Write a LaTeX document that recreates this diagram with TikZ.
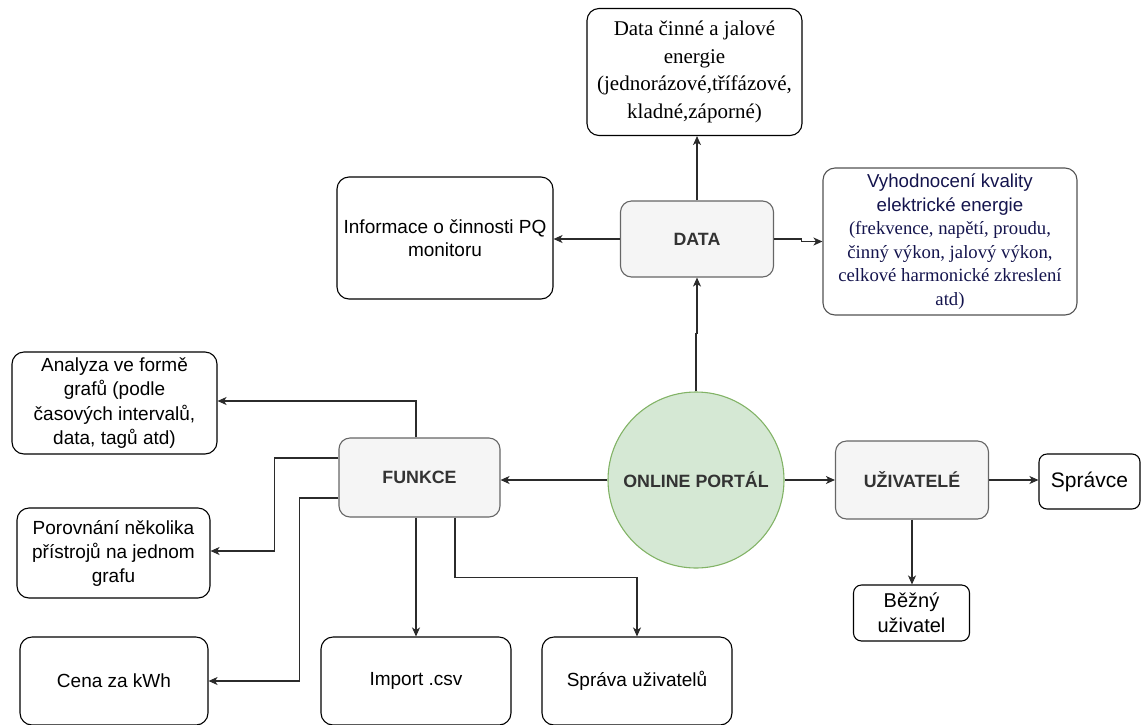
\documentclass[tikz,border=0pt]{standalone}
\usepackage{fontspec}
\setmainfont{Liberation Serif}
\setsansfont{Liberation Sans}
\usepackage{tikz}
\usetikzlibrary{arrows.meta}
\definecolor{portalFill}{HTML}{D5E8D4}
\definecolor{portalDraw}{HTML}{82B366}
\definecolor{groupFill}{HTML}{F5F5F5}
\definecolor{groupDraw}{HTML}{666666}
\definecolor{groupText}{HTML}{333333}
\definecolor{navyText}{HTML}{14144D}
\definecolor{wire}{HTML}{2B2B2B}

\tikzset{
  leafBox/.style={draw=black, rounded corners=12pt, line width=1.1pt, align=center,
    inner sep=0pt, font=\sffamily\fontsize{19}{24}\selectfont},
  groupBox/.style={draw=groupDraw, fill=groupFill, rounded corners=11pt, line width=1.1pt,
    inner sep=0pt, text=groupText, font=\sffamily\bfseries\fontsize{17.8}{20}\selectfont},
  linkArrow/.style={draw=wire, line width=1.1pt, -{Stealth[length=9pt,width=8pt,inset=2.5pt]}}
}

\begin{document}
\begin{tikzpicture}[x=1pt,y=-1pt]
  \newcommand\portalRadius{88pt}
  \useasboundingbox (0,0) rectangle (1141,724);

  % CENTRE
  \node[circle, draw=portalDraw, fill=portalFill, line width=1.1pt, minimum size=2*\portalRadius,
    inner sep=0pt, text=groupText, font=\sffamily\bfseries\fontsize{17.8}{20}\selectfont]
    (portal) at (696,480) {ONLINE PORTÁL};

  \node[groupBox, minimum width=153pt, minimum height=76pt] (data) at (697,239) {DATA};
  \node[groupBox, minimum width=161pt, minimum height=79pt] (funkce) at (419.5,477.5) {FUNKCE};
  \node[groupBox, minimum width=153pt, minimum height=78pt] (users) at (912,480) {UŽIVATELÉ};

  % DATA
  \node[leafBox, minimum width=215pt, minimum height=127pt, font=\rmfamily\fontsize{21}{27.5}\selectfont]
    (energy) at (694.5,72) {Data činné a jalové\\energie\\(jednorázové,třífázové,\\kladné,záporné)};
  \node[leafBox, minimum width=216pt, minimum height=122pt, font=\sffamily\fontsize{19}{23}\selectfont]
    (info) at (445,238) {Informace o činnosti PQ\\monitoru};
  \node[leafBox, draw=groupDraw!80!black, minimum width=254pt, minimum height=147pt, text=navyText,
    font=\fontsize{18.7}{23.5}\selectfont]
    (quality) at (950,241.5) {\sffamily Vyhodnocení kvality\\\sffamily elektrické energie\\
      \rmfamily (frekvence, napětí, proudu,\\\rmfamily činný výkon, jalový výkon,\\
      \rmfamily celkové harmonické zkreslení\\\rmfamily atd)};

  % FUNKCE
  \node[leafBox, minimum width=205pt, minimum height=102pt, font=\sffamily\fontsize{19}{24.5}\selectfont]
    (analyza) at (114.5,403)
    {Analyza ve formě\\grafů (podle\\časových intervalů,\\data, tagů atd)};
  \node[leafBox, minimum width=193pt, minimum height=90pt] (porovnani) at (113.5,553)
    {Porovnání několika\\přístrojů na jednom\\grafu};
  \node[leafBox, minimum width=188pt, minimum height=88pt] (cena) at (114,681) {Cena za kWh};
  \node[leafBox, minimum width=190pt, minimum height=88pt] (import) at (416,681) {Import .csv};
  \node[leafBox, minimum width=190pt, minimum height=88pt] (sprava) at (637,681) {Správa uživatelů};

  % UZIVATELE
  \node[leafBox, rounded corners=8pt, minimum width=101pt, minimum height=55pt,
    font=\sffamily\fontsize{21}{25}\selectfont] (spravce) at (1089.5,481.5) {Správce};
  \node[leafBox, rounded corners=8pt, minimum width=116pt, minimum height=56pt,
    font=\sffamily\fontsize{20}{25}\selectfont] (bezny) at (911.5,613) {Běžný\\uživatel};

  % links
  \draw[linkArrow] (portal.north) -- ++(0,-58) -| (data.south);
  \draw[linkArrow] (data.north) -- (data.north |- energy.south);
  \draw[linkArrow] (data.west) -- (data.west -| info.east);
  \draw[linkArrow] (data.east) -- ++(27,0) |- (quality.west);

  \draw[linkArrow] (portal.west) -- (portal.west -| funkce.east);
  \draw[linkArrow] (funkce.north -| import) |- ([yshift=2pt]analyza.east);
  \draw[linkArrow] ([yshift=19.5pt]funkce.west) -- ++(-64,0) |- ([yshift=2pt]porovnani.east);
  \draw[linkArrow] ([yshift=-20.5pt]funkce.west) -- ++(-39,0) |- (cena.east);
  \draw[linkArrow] (funkce.south -| import) -- (import.north);
  \draw[linkArrow] ([xshift=35.5pt]funkce.south) -- ++(0,60) -| (sprava.north);

  \draw[linkArrow] (portal.east) -- (users.west);
  \draw[linkArrow] (users.east) -- (users.east -| spravce.west);
  \draw[linkArrow] (users.south) -- (users.south |- bezny.north);

\end{tikzpicture}
\end{document}
